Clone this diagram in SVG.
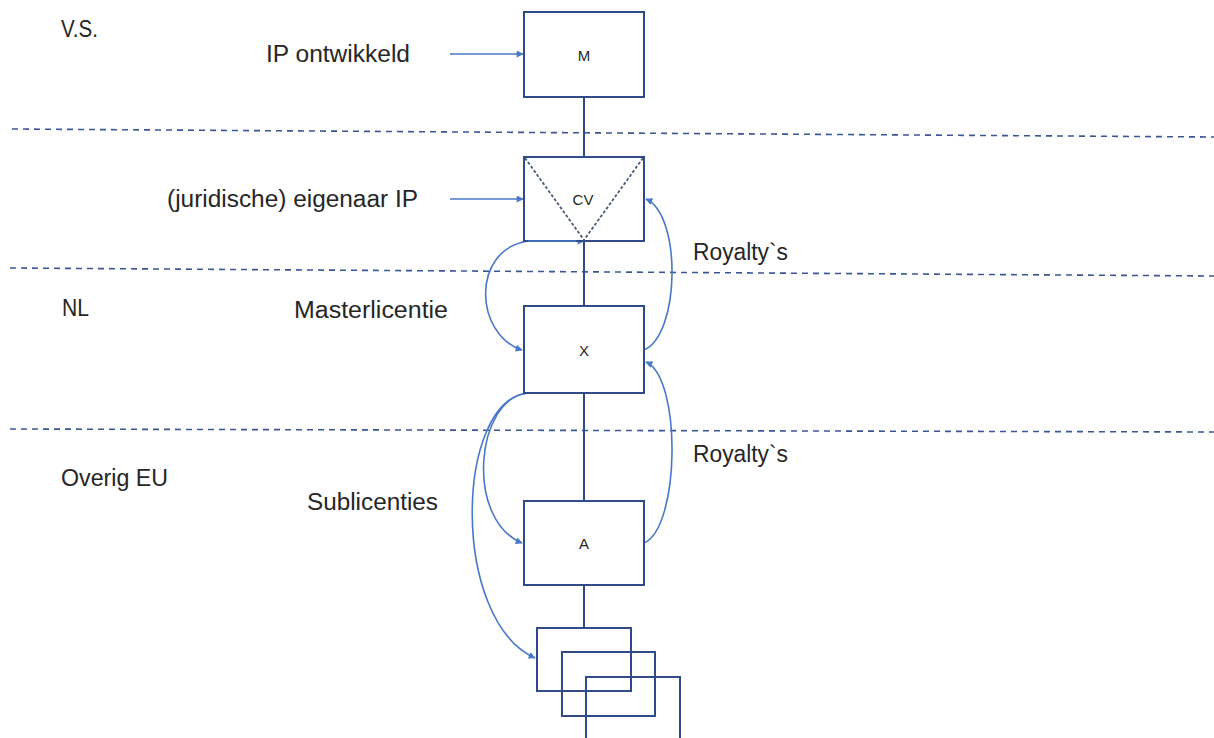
<svg xmlns="http://www.w3.org/2000/svg" width="1214" height="738" viewBox="0 0 1214 738">
  <style>
    .lbl { font-family: "Liberation Sans", Arial, sans-serif; font-size: 23px; fill: #262626; }
    .box-lbl { font-family: "Liberation Sans", Arial, sans-serif; font-size: 15px; fill: #262626; text-anchor: middle; }
    .box { fill: #ffffff; stroke: #2F4B8A; stroke-width: 2; }
    .stack { fill: none; stroke: #2F4B8A; stroke-width: 2; }
    .link { stroke: #2F4B8A; stroke-width: 2; fill: none; }
    .zone { stroke: #3A5694; stroke-width: 1.6; stroke-dasharray: 6 5; fill: none; }
    .flow { stroke: #4A78C8; stroke-width: 1.6; fill: none; }
    .diag { stroke: #4A5A7A; stroke-width: 1.8; stroke-dasharray: 3 2; fill: none; }
  </style>
  <defs>
    <marker id="arrow" viewBox="0 0 10 10" refX="9" refY="5" markerWidth="8" markerHeight="7" orient="auto-start-reverse" markerUnits="userSpaceOnUse">
      <path d="M0,0 L10,5 L0,10 Z" fill="#4A78C8"/>
    </marker>
  </defs>

  <rect width="1214" height="738" fill="#ffffff"/>

  <!-- jurisdiction borders -->
  <g id="zones">
    <line class="zone" x1="12" y1="129" x2="1214" y2="137"/>
    <line class="zone" x1="10" y1="268" x2="1214" y2="276"/>
    <line class="zone" x1="10" y1="429" x2="1214" y2="432"/>
  </g>

  <!-- zone and relation labels -->
  <g id="labels">
    <text class="lbl" x="61" y="37" textLength="37" lengthAdjust="spacingAndGlyphs">V.S.</text>
    <text class="lbl" x="62" y="316" textLength="27" lengthAdjust="spacingAndGlyphs">NL</text>
    <text class="lbl" x="61" y="486" textLength="107" lengthAdjust="spacingAndGlyphs">Overig EU</text>
    <text class="lbl" x="266" y="62" textLength="144" lengthAdjust="spacingAndGlyphs">IP ontwikkeld</text>
    <text class="lbl" x="167" y="207" textLength="251" lengthAdjust="spacingAndGlyphs">(juridische) eigenaar IP</text>
    <text class="lbl" x="294" y="318" textLength="154" lengthAdjust="spacingAndGlyphs">Masterlicentie</text>
    <text class="lbl" x="307" y="510" textLength="131" lengthAdjust="spacingAndGlyphs">Sublicenties</text>
    <text class="lbl" x="693" y="260" textLength="95" lengthAdjust="spacingAndGlyphs">Royalty`s</text>
    <text class="lbl" x="693" y="462" textLength="95" lengthAdjust="spacingAndGlyphs">Royalty`s</text>
  </g>

  <!-- connectors -->
  <g id="connectors">
    <line class="link" x1="584" y1="97" x2="584" y2="157"/>
    <line class="link" x1="584" y1="241" x2="584" y2="306"/>
    <line class="link" x1="584" y1="393" x2="584" y2="501"/>
    <line class="link" x1="584" y1="585" x2="584" y2="628"/>
    <line class="flow" x1="450" y1="54" x2="523" y2="54" marker-end="url(#arrow)"/>
    <line class="flow" x1="450" y1="199" x2="523" y2="199" marker-end="url(#arrow)"/>
    <!-- master licence -->
    <path class="flow" d="M584,241 L528,241 C470,250 475,335 522,350" marker-start="url(#arrow)" marker-end="url(#arrow)"/>
    <!-- royalties -->
    <path class="flow" d="M644,350 C680,335 682,215 646,199" marker-end="url(#arrow)"/>
    <path class="flow" d="M644,543 C680,528 682,378 646,362" marker-end="url(#arrow)"/>
    <!-- sublicences -->
    <path class="flow" d="M584,393 L528,393 C475,398 465,520 522,543" marker-end="url(#arrow)"/>
    <path class="flow" d="M584,393 L528,393 C455,400 450,620 535,658" marker-end="url(#arrow)"/>
  </g>

  <g id="node-m">
    <rect class="box" x="524" y="12" width="120" height="85"/>
    <text class="box-lbl" x="584" y="61">M</text>
  </g>

  <g id="node-cv">
    <rect class="box" x="524" y="157" width="120" height="84"/>
    <line class="diag" x1="525" y1="158" x2="584" y2="240"/>
    <line class="diag" x1="643" y1="158" x2="584" y2="240"/>
    <text class="box-lbl" x="583" y="205">CV</text>
    <line class="flow" x1="528" y1="241" x2="576" y2="241"/>
  </g>

  <g id="node-x">
    <rect class="box" x="524" y="306" width="120" height="87"/>
    <text class="box-lbl" x="584" y="356">X</text>
  </g>

  <g id="node-a">
    <rect class="box" x="524" y="501" width="120" height="84"/>
    <text class="box-lbl" x="584" y="549">A</text>
  </g>

  <g id="node-subs">
    <rect class="stack" x="537" y="628" width="94" height="63"/>
    <rect class="stack" x="562" y="652" width="93" height="64"/>
    <rect class="stack" x="586" y="677" width="94" height="80"/>
  </g>
</svg>
